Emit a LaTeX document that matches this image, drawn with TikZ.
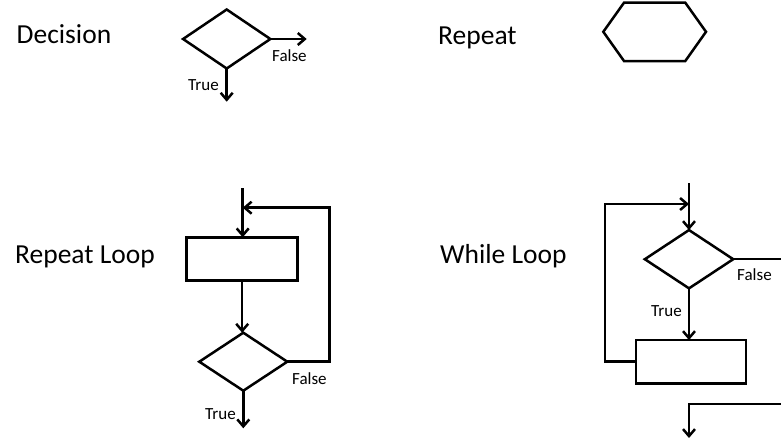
\documentclass[tikz,border=0pt]{standalone}
\usepackage{fontspec}
\setmainfont{Carlito}
\usetikzlibrary{arrows.meta,shapes.geometric}
\tikzset{
  line/.style={line width=2.5pt},
  arr/.style={line width=2.5pt,-{Straight Barb[length=7pt,width=12pt]}},
  dia/.style={draw,line width=2.5pt,shape=diamond,inner sep=0pt,outer sep=0pt},
  boxx/.style={draw,line width=2.5pt,rectangle,inner sep=0pt,outer sep=0pt,minimum width=111pt,minimum height=43.4pt},
  bigtext/.style={anchor=base west,inner sep=0pt,font=\fontsize{27.5}{30}\selectfont},
  smalltext/.style={anchor=base west,inner sep=0pt,font=\fontsize{17}{19}\selectfont}
}
\begin{document}
\begin{tikzpicture}[x=1pt,y=-1pt]
\useasboundingbox (0,0) rectangle (781,440);

% --- Decision ---
\node[bigtext] (tdec) at (16.5,43.3) {Decision};
\node[dia,minimum width=87.3pt,minimum height=59pt] (ddec) at (226.7,39) {};
\coordinate (decR) at (306.7,39);
\coordinate (decD) at (226.7,101.7);
\draw[arr] (ddec.east) -- (decR);
\draw[arr] (ddec.south) -- (decD);
\node[smalltext] (fdec) at (272,61) {False};
\node[smalltext] (trdec) at (188,90) {True};

% --- Repeat ---
\node[bigtext] (trep) at (438,44) {Repeat};
\coordinate (hex) at (654.7,31.8);
\draw[line,line join=miter] (603.3,31.8) -- (624,2.7) -- (685.3,2.7) -- (706,31.8) -- (685.3,61) -- (624,61) -- cycle;

% --- Repeat Loop ---
\node[bigtext] (trl) at (15,263.3) {Repeat Loop};
\node[boxx] (rbox) at (242.2,259) {};
\node[dia,minimum width=88pt,minimum height=58pt] (rdia) at (243.3,361.7) {};
\coordinate (rtop) at (242.7,188);
\coordinate (rout) at (243.3,428.3);
\coordinate (rcorner) at (329.3,207.7);
\coordinate (rjoin) at (242.7,207.7);
\draw[line] (rtop) -- (rjoin);
\draw[arr] (rjoin) -- (rjoin |- rbox.north);
\draw[arr] (rbox.south) -- (rbox.south |- rdia.north);
\draw[arr] (rdia.south) -- (rout);
\draw[arr] (rdia.east) -| (rcorner) -- (rjoin);
\node[smalltext] (frl) at (292,384) {False};
\node[smalltext] (trrl) at (205,419) {True};

% --- While Loop ---
\node[bigtext] (twl) at (440,263.3) {While Loop};
\node[dia,minimum width=88.4pt,minimum height=58.3pt] (wdia) at (689,259.2) {};
\node[boxx,minimum width=110.3pt,minimum height=43.3pt] (wbox) at (690.9,361.7) {};
\coordinate (wtop) at (689,183);
\coordinate (wjoin) at (689,204);
\coordinate (wcorner) at (605,204);
\coordinate (wright) at (782,259.2);
\coordinate (wfar) at (782,404);
\coordinate (wbot) at (689,438);
\draw[line] (wtop) -- (wjoin);
\draw[arr] (wjoin) -- (wdia.north);
\draw[line] (wdia.east) -- (wright);
\draw[arr] (wdia.south) -- (wdia.south |- wbox.north);
\draw[arr] (wbox.west) -| (wcorner) -- (wjoin);
\draw[arr] (wfar) -| (wbot);
\node[smalltext] (fwl) at (737,280.7) {False};
\node[smalltext] (trwl) at (651,316) {True};
\end{tikzpicture}
\end{document}
